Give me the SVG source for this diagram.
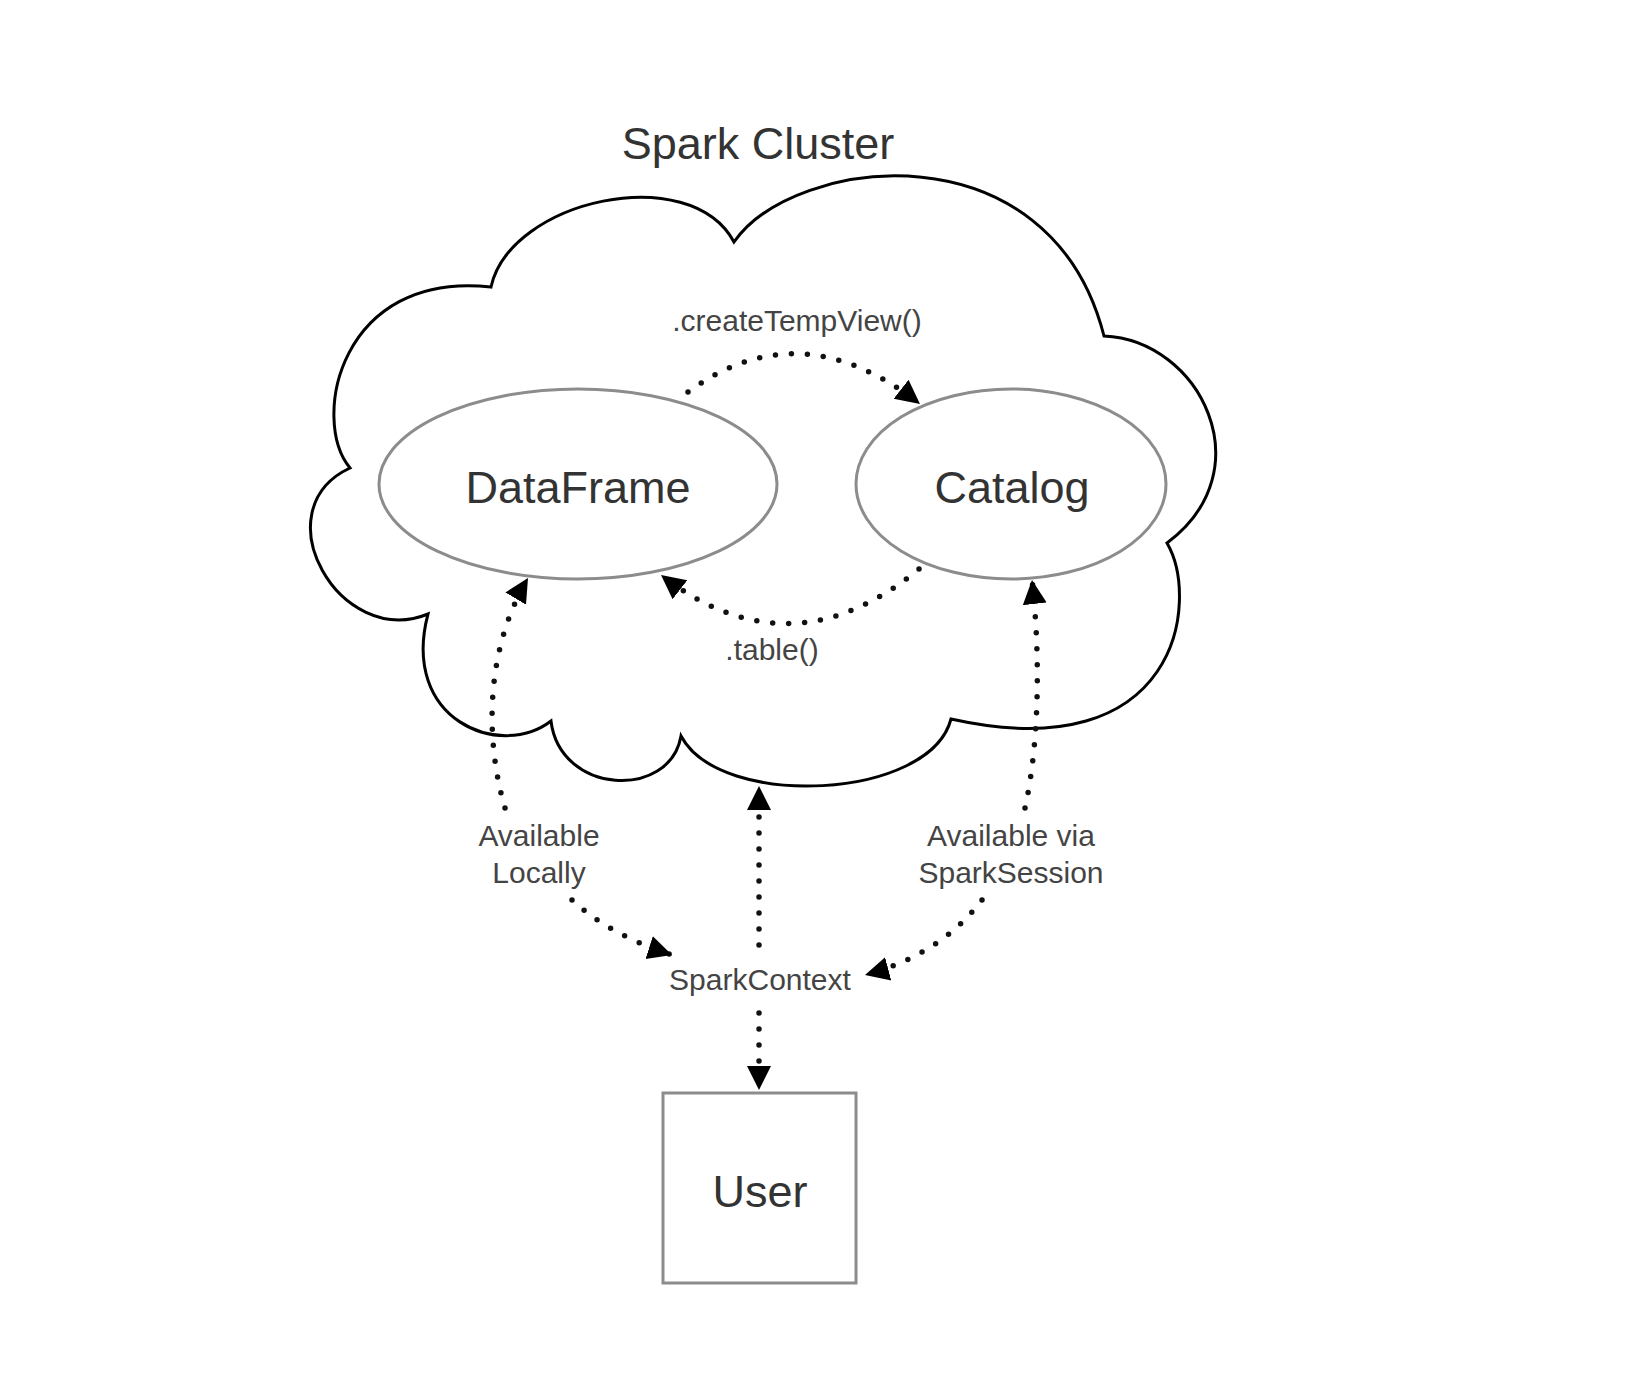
<svg xmlns="http://www.w3.org/2000/svg" width="1638" height="1392" viewBox="0 0 1638 1392">
<style>
  .big{font-family:"Liberation Sans",Arial,sans-serif;font-size:45px;fill:#333;text-anchor:middle}
  .lbl{font-family:"Liberation Sans",Arial,sans-serif;font-size:30px;fill:#444;text-anchor:middle}
  .node{fill:#fff;stroke:#8c8c8c;stroke-width:3}
  .dot{fill:none;stroke:#111;stroke-width:5.5;stroke-linecap:round;stroke-dasharray:0 16;marker-end:url(#arr)}
</style>
<defs>
  <marker id="arr" markerUnits="userSpaceOnUse" markerWidth="30" markerHeight="30" refX="24" refY="12" orient="auto" viewBox="0 0 30 24">
    <path d="M0,0 L24,12 L0,24 Z" fill="#000"/>
  </marker>
</defs>
<rect width="1638" height="1392" fill="#fff"/>
<g id="cluster">
  <path d="M 491 287 C 510 200, 690 160, 734 242 C 795 155, 1050 125, 1104 336 C 1200 340, 1265 470, 1167 543 C 1200 600, 1180 770, 951 719 C 930 800, 720 810, 681 736 C 670 800, 560 795, 551 721 C 500 760, 400 720, 428 614 C 340 650, 260 510, 350 468 C 310 420, 340 270, 491 287 Z" fill="#fff" stroke="#000" stroke-width="3"/>
  <text class="big" x="758" y="159">Spark Cluster</text>
</g>
<g id="dataframe">
  <ellipse class="node" cx="578" cy="484" rx="199" ry="95"/>
  <text class="big" x="578" y="503">DataFrame</text>
</g>
<g id="catalog">
  <ellipse class="node" cx="1011" cy="484" rx="155" ry="95"/>
  <text class="big" x="1012" y="503">Catalog</text>
</g>
<g id="user">
  <rect class="node" x="663" y="1093" width="193" height="190"/>
  <text class="big" x="760" y="1207">User</text>
</g>
<g id="sparkcontext">
  <text class="lbl" x="760" y="990">SparkContext</text>
</g>
<g id="connectors">
  <path class="dot" d="M 688 392 Q 800 310 920 404"/>
  <path class="dot" d="M 919 569 Q 790 675 661 575"/>
  <path class="dot" d="M 505 808 C 485 740, 485 650, 528 578"/>
  <path class="dot" d="M 1025 808 C 1040 740, 1040 650, 1032 580"/>
  <path class="dot" d="M 572 900 Q 610 935 672 955"/>
  <path class="dot" d="M 982 900 Q 940 955 865 975"/>
  <path class="dot" d="M 759 945 L 759 786"/>
  <path class="dot" d="M 759 1013 L 759 1090"/>
  <text class="lbl" x="797" y="331">.createTempView()</text>
  <text class="lbl" x="772" y="660">.table()</text>
  <text class="lbl" x="539" y="846">Available</text>
  <text class="lbl" x="539" y="883">Locally</text>
  <text class="lbl" x="1011" y="846">Available via</text>
  <text class="lbl" x="1011" y="883">SparkSession</text>
</g>
</svg>
